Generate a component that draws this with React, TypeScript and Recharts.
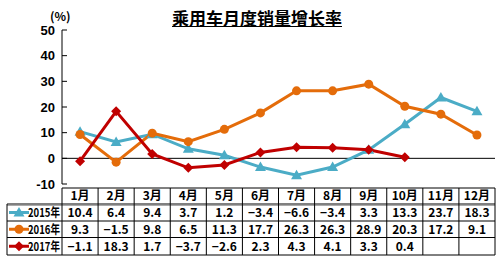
import React from "react";
import { LineChart, Line, XAxis, YAxis, ReferenceLine } from "recharts";

const months = ["1月", "2月", "3月", "4月", "5月", "6月", "7月", "8月", "9月", "10月", "11月", "12月"];
const s2015 = [10.4, 6.4, 9.4, 3.7, 1.2, -3.4, -6.6, -3.4, 3.3, 13.3, 23.7, 18.3];
const s2016 = [9.3, -1.5, 9.8, 6.5, 11.3, 17.7, 26.3, 26.3, 28.9, 20.3, 17.2, 9.1];
const s2017 = [-1.1, 18.3, 1.7, -3.7, -2.6, 2.3, 4.3, 4.1, 3.3, 0.4];
const yTicks = [-10, 0, 10, 20, 30, 40, 50];
const seriesNames = ["2015年", "2016年", "2017年"];

const BLUE = "#4bacc6";
const ORANGE = "#e46c0a";
const RED = "#c00000";
const FONT = "'Noto Sans CJK JP', 'Noto Sans CJK SC', sans-serif";

const data = months.map((m, i) => ({
  month: m,
  y2015: s2015[i],
  y2016: s2016[i],
  y2017: i < s2017.length ? s2017[i] : null,
}));

const fmt = (v?: number) => (v === undefined ? "" : v.toFixed(1).replace("-", "−"));

// plot box
const LEFT = 62;
const RIGHT = 495;
const TOP = 30;
const BOTTOM = 184;
const colW = (RIGHT - LEFT) / 12;
const rowY = [188, 204, 221, 237.5, 255];

function triangle(cx: number, cy: number, color: string, key?: any) {
  return (
    <polygon
      key={key}
      points={`${cx},${cy - 5.5} ${cx - 5.5},${cy + 4} ${cx + 5.5},${cy + 4}`}
      fill={color}
    />
  );
}
function circle(cx: number, cy: number, color: string, key?: any) {
  return <circle key={key} cx={cx} cy={cy} r={4.5} fill={color} />;
}
function diamond(cx: number, cy: number, color: string, key?: any) {
  return (
    <polygon
      key={key}
      points={`${cx},${cy - 5} ${cx + 5},${cy} ${cx},${cy + 5} ${cx - 5},${cy}`}
      fill={color}
    />
  );
}

const markers = [
  (cx: number, cy: number, k?: any) => triangle(cx, cy, BLUE, k),
  (cx: number, cy: number, k?: any) => circle(cx, cy, ORANGE, k),
  (cx: number, cy: number, k?: any) => diamond(cx, cy, RED, k),
];
const colors = [BLUE, ORANGE, RED];
const series = [s2015, s2016, s2017];

const makeDot = (idx: number) => (p: any) => {
  if (p.cx == null || p.cy == null || p.value == null) return <g key={p.index} />;
  return markers[idx](p.cx, p.cy, p.index);
};

const YTick = (p: any) => {
  const { y, payload } = p;
  return (
    <g>
      <line x1={LEFT} x2={LEFT + 5} y1={y} y2={y} stroke="#000" />
      <text x={LEFT - 7} y={y + 4.5} textAnchor="end" fontSize={13} fontWeight="bold" fontFamily="Arial, 'Liberation Sans', sans-serif" fill="#000">
        {payload.value}
      </text>
    </g>
  );
};

function Table() {
  return (
    <svg width={500} height={262} style={{ position: "absolute", left: 0, top: 0, pointerEvents: "none" }}>
      <line x1={LEFT} x2={RIGHT} y1={rowY[0]} y2={rowY[0]} stroke="#000" />
      <line x1={7} x2={RIGHT} y1={rowY[1]} y2={rowY[1]} stroke="#000" />
      <line x1={7} x2={RIGHT} y1={rowY[1] + 1.5} y2={rowY[1] + 1.5} stroke="#aaa" />
      <line x1={7} x2={RIGHT} y1={rowY[2]} y2={rowY[2]} stroke="#000" />
      <line x1={7} x2={RIGHT} y1={rowY[3]} y2={rowY[3]} stroke="#000" />
      <line x1={7} x2={RIGHT} y1={rowY[4]} y2={rowY[4]} stroke="#000" />
      <line x1={7} x2={7} y1={rowY[1]} y2={rowY[4]} stroke="#000" />
      {months.map((_, i) => (
        <line key={i} x1={LEFT + i * colW} x2={LEFT + i * colW} y1={rowY[0]} y2={rowY[4]} stroke="#000" />
      ))}
      <line x1={RIGHT} x2={RIGHT} y1={rowY[0]} y2={rowY[4]} stroke="#000" />
      {months.map((m, i) => (
        <text key={m} x={LEFT + (i + 0.5) * colW} y={rowY[0] + 12} textAnchor="middle" fontSize={12} fontWeight="bold" fontFamily={FONT}>
          {m}
        </text>
      ))}
      {series.map((s, r) => {
        const cy = (rowY[r + 1] + rowY[r + 2]) / 2;
        return (
          <g key={r}>
            <line x1={9} x2={29} y1={cy} y2={cy} stroke={colors[r]} strokeWidth={3} />
            {markers[r](19, cy)}
            <text x={28} y={cy + 4.5} fontSize={12} fontWeight="bold" fontFamily={FONT} textLength={32} lengthAdjust="spacingAndGlyphs">
              {seriesNames[r]}
            </text>
            {months.map((_, i) => (
              <text key={i} x={LEFT + (i + 0.5) * colW} y={cy + 4.5} textAnchor="middle" fontSize={12} fontWeight="bold" fontFamily={FONT}>
                {fmt(s[i])}
              </text>
            ))}
          </g>
        );
      })}
    </svg>
  );
}

export default function App() {
  return (
    <div style={{ position: "absolute", left: 0, top: 0, width: 500, height: 262, background: "#fff" }}>
      <LineChart
        width={500}
        height={262}
        data={data}
        margin={{ top: TOP, right: 500 - RIGHT, bottom: 262 - BOTTOM, left: 0 }}
      >
        <XAxis dataKey="month" hide padding={{ left: colW / 2, right: colW / 2 }} />
        <YAxis
          domain={[-10, 50]}
          ticks={yTicks}
          width={LEFT}
          tickSize={0}
          tickMargin={0}
          tickLine={false}
          axisLine={{ stroke: "#000" }}
          tick={<YTick />}
          interval={0}
        />
        <ReferenceLine y={0} stroke="#000" />
        <Line dataKey="y2015" stroke={BLUE} strokeWidth={3} dot={makeDot(0)} isAnimationActive={false} />
        <Line dataKey="y2016" stroke={ORANGE} strokeWidth={3} dot={makeDot(1)} isAnimationActive={false} />
        <Line dataKey="y2017" stroke={RED} strokeWidth={3} dot={makeDot(2)} isAnimationActive={false} />
      </LineChart>
      <div
        style={{
          position: "absolute",
          left: 172,
          top: 8,
          fontFamily: FONT,
          fontWeight: "bold",
          fontSize: 17,
          textDecoration: "underline",
          lineHeight: "20px",
        }}
      >
        乘用车月度销量增长率
      </div>
      <div style={{ position: "absolute", left: 50, top: 7, fontFamily: FONT, fontWeight: "bold", fontSize: 12 }}>
        (%)
      </div>
      <Table />
    </div>
  );
}
